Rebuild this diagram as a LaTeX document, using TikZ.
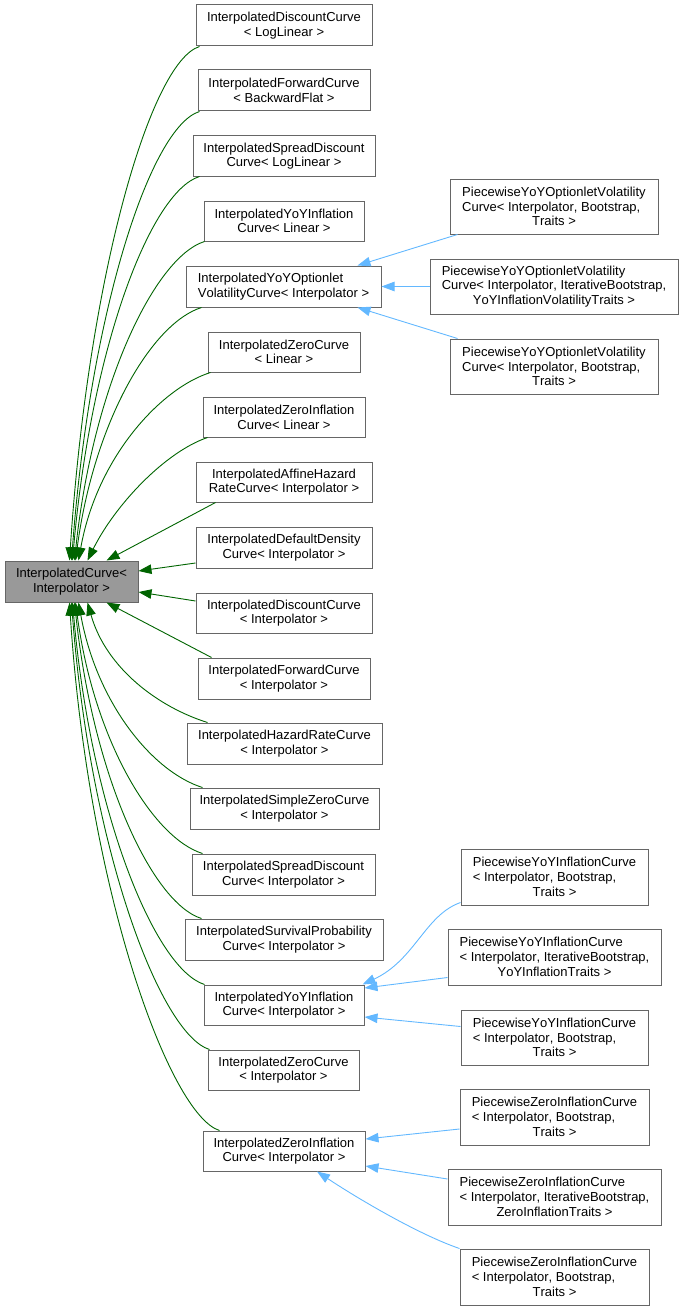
\documentclass[tikz,border=0pt]{standalone}
\usepackage{fontspec}
\setmainfont{Liberation Sans}[Kerning=Off]
\usetikzlibrary{arrows.meta,calc}
\definecolor{gdark}{HTML}{006400}
\definecolor{bl}{HTML}{63B8FF}
\definecolor{bord}{HTML}{666666}
\definecolor{rootfill}{HTML}{999999}
\newcommand\mybox[7][]{\node[box,#1,minimum width={(#5-#3)*1pt},minimum height={(#6-#4)*1pt}] (#2) at ({(#3+#5)/2},{(#4+#6)/2}) {#7};}
\tikzset{
  box/.style={draw=bord, line width=1pt, fill=white, rectangle, inner sep=1pt, align=center,
    font=\fontsize{13}{14.7}\selectfont},
  rootbox/.style={fill=rootfill},
  gedge/.style={draw=gdark, line width=0.9pt, -{Triangle[length=13pt,width=9.5pt]}},
  bedge/.style={draw=bl, line width=0.9pt, -{Triangle[length=13pt,width=9.5pt]}}
}
\begin{document}
\begin{tikzpicture}[x=1pt,y=-1pt]
\useasboundingbox (0,0) rectangle (684,1311);
% root
\mybox[rootbox]{root}{5}{561}{138}{602}{InterpolatedCurve<\\Interpolator >}
% middle column
\mybox{b1}{196}{5}{372}{46}{InterpolatedDiscountCurve\\< LogLinear >}
\mybox{b2}{198}{70}{370}{111}{InterpolatedForwardCurve\\< BackwardFlat >}
\mybox{b3}{193}{136}{375}{176}{InterpolatedSpreadDiscount\\Curve< LogLinear >}
\mybox{b4}{204}{201}{364}{241}{InterpolatedYoYInflation\\Curve< Linear >}
\mybox[align=left]{b5}{186}{266}{381}{307}{InterpolatedYoYOptionlet\\VolatilityCurve< Interpolator >}
\mybox{b6}{208}{332}{360}{372}{InterpolatedZeroCurve\\< Linear >}
\mybox{b7}{203}{397}{365}{437}{InterpolatedZeroInflation\\Curve< Linear >}
\mybox{b8}{196}{462}{372}{502}{InterpolatedAffineHazard\\RateCurve< Interpolator >}
\mybox{b9}{196}{527}{372}{568}{InterpolatedDefaultDensity\\Curve< Interpolator >}
\mybox{b10}{196}{593}{372}{633}{InterpolatedDiscountCurve\\< Interpolator >}
\mybox{b11}{198}{658}{370}{699}{InterpolatedForwardCurve\\< Interpolator >}
\mybox{b12}{187}{723}{382}{764}{InterpolatedHazardRateCurve\\< Interpolator >}
\mybox{b13}{190}{788}{379}{829}{InterpolatedSimpleZeroCurve\\< Interpolator >}
\mybox{b14}{192}{854}{375}{895}{InterpolatedSpreadDiscount\\Curve< Interpolator >}
\mybox{b15}{185}{919}{383}{960}{InterpolatedSurvivalProbability\\Curve< Interpolator >}
\mybox{b16}{204}{985}{364}{1025}{InterpolatedYoYInflation\\Curve< Interpolator >}
\mybox{b17}{208}{1050}{359}{1090}{InterpolatedZeroCurve\\< Interpolator >}
\mybox{b18}{203}{1131}{365}{1171}{InterpolatedZeroInflation\\Curve< Interpolator >}
% right column
\mybox{a}{450}{179}{658}{234}{PiecewiseYoYOptionletVolatility\\\rlap{Curve< Interpolator, Bootstrap,}\phantom{PiecewiseYoYOptionletVolatility}\\Traits >}
\mybox{b}{430}{259}{678}{314}{\rlap{PiecewiseYoYOptionletVolatility}\phantom{Curve< Interpolator, IterativeBootstrap,}\\Curve< Interpolator, IterativeBootstrap,\\YoYInflationVolatilityTraits >}
\mybox{c}{450}{339}{658}{394}{PiecewiseYoYOptionletVolatility\\\rlap{Curve< Interpolator, Bootstrap,}\phantom{PiecewiseYoYOptionletVolatility}\\Traits >}
\mybox{d}{461}{849}{648}{905}{PiecewiseYoYInflationCurve\\\rlap{< Interpolator, Bootstrap,}\phantom{PiecewiseYoYInflationCurve}\\Traits >}
\mybox{e}{448}{929}{661}{985}{\rlap{PiecewiseYoYInflationCurve}\phantom{< Interpolator, IterativeBootstrap,}\\< Interpolator, IterativeBootstrap,\\YoYInflationTraits >}
\mybox{f}{461}{1010}{648}{1065}{PiecewiseYoYInflationCurve\\\rlap{< Interpolator, Bootstrap,}\phantom{PiecewiseYoYInflationCurve}\\Traits >}
\mybox{g}{460}{1089}{649}{1145}{PiecewiseZeroInflationCurve\\\rlap{< Interpolator, Bootstrap,}\phantom{PiecewiseZeroInflationCurve}\\Traits >}
\mybox{h}{448}{1169}{661}{1225}{\rlap{PiecewiseZeroInflationCurve}\phantom{< Interpolator, IterativeBootstrap,}\\< Interpolator, IterativeBootstrap,\\ZeroInflationTraits >}
\mybox{i}{460}{1249}{649}{1305}{PiecewiseZeroInflationCurve\\\rlap{< Interpolator, Bootstrap,}\phantom{PiecewiseZeroInflationCurve}\\Traits >}
% green edges, upper
\draw[gedge] ($(b1.south west)+(4,0)$) .. controls (150,62) and (88,278) .. ($(root.north west)+(65,0)$);
\draw[gedge] ($(b2.south west)+(2,0)$) .. controls (150,127) and (90,313) .. ($(root.north west)+(67,0)$);
\draw[gedge] ($(b3.south west)+(7,0)$) .. controls (150,192) and (91,349) .. ($(root.north west)+(68,0)$);
\draw[gedge] ($(b4.south west)+(1,0)$) .. controls (155,257) and (93,385) .. ($(root.north west)+(70,0)$);
\draw[gedge] ($(b5.south west)+(16,0)$) .. controls (152,323) and (94,421) .. ($(root.north west)+(71,0)$);
\draw[gedge] ($(b6.south west)+(3,0)$) .. controls (161,388) and (97,457) .. ($(root.north west)+(74,0)$);
\draw[gedge] ($(b7.south west)+(5,0)$) .. controls (165,452) and (115,505) .. ($(root.north west)+(83,0)$);
\draw[gedge] ($(b8.south west)+(20,0)$) -- ($(root.north west)+(102,0)$);
\draw[gedge] ($(b9.west)+(0,15.5)$) -- ($(root.east)+(0,-10.5)$);
\draw[gedge] ($(b10.west)+(0,-12)$) -- ($(root.east)+(0,10.5)$);
% green edges, lower
\draw[gedge] ($(b11.north west)+(14,0)$) -- ($(root.south west)+(102,0)$);
\draw[gedge] ($(b12.north west)+(21,0)$) .. controls (158,707) and (106,668) .. ($(root.south west)+(83,0)$);
\draw[gedge] ($(b13.north west)+(13,0)$) .. controls (153,772) and (97,704) .. ($(root.south west)+(74,0)$);
\draw[gedge] ($(b14.north west)+(11,0)$) .. controls (153,838) and (94,741) .. ($(root.south west)+(71,0)$);
\draw[gedge] ($(b15.north west)+(17,0)$) .. controls (152,903) and (93,776) .. ($(root.south west)+(70,0)$);
\draw[gedge] ($(b16.north west)+(1,0)$) .. controls (155,969) and (91,813) .. ($(root.south west)+(68,0)$);
\draw[gedge] ($(b17.north west)+(2,0)$) .. controls (160,1034) and (90,848) .. ($(root.south west)+(67,0)$);
\draw[gedge] ($(b18.north west)+(17,0)$) .. controls (170,1115) and (88,893) .. ($(root.south west)+(65,0)$);
% blue edges
\draw[bedge] ($(a.south west)+(8,0)$) -- ($(b5.north east)+(-24,0)$);
\draw[bedge] (b.west) -- (b5.east);
\draw[bedge] ($(c.north west)+(8,0)$) -- ($(b5.south east)+(-24,0)$);
\draw[bedge] ($(d.south west)+(0,-3)$) .. controls (425,915) and (415,960) .. ($(b16.north east)+(-2,0)$);
\draw[bedge] ($(e.south west)+(0,-8)$) -- ($(b16.east)+(0,-17)$);
\draw[bedge] ($(f.north west)+(0,17)$) -- ($(b16.east)+(0,12)$);
\draw[bedge] ($(g.west)+(0,12)$) -- ($(b18.east)+(0,-12)$);
\draw[bedge] ($(h.west)+(0,-18)$) -- ($(b18.east)+(0,15)$);
\draw[bedge] (i.north west) .. controls (420,1235) and (360,1200) .. ($(b18.south)+(33,0)$);
\end{tikzpicture}
\end{document}
